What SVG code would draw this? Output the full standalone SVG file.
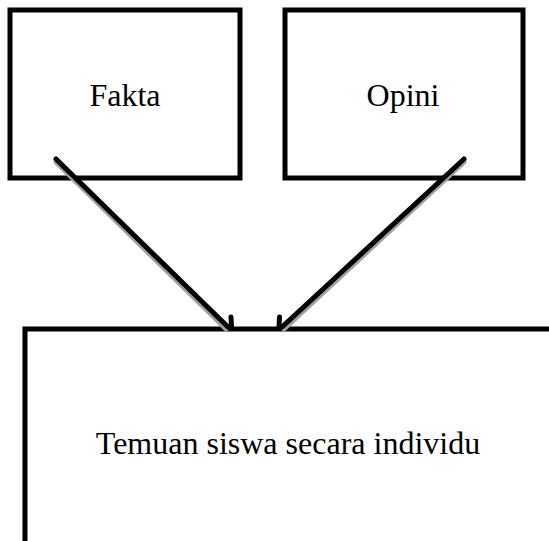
<svg xmlns="http://www.w3.org/2000/svg" width="549" height="541" viewBox="0 0 549 541">
  <style>
    .box { fill: #ffffff; stroke: #000000; stroke-width: 5; }
    .label { font-family: "Liberation Serif", "Times New Roman", serif; font-size: 32px; fill: #000000; text-anchor: middle; }
    .edge { stroke: #000000; stroke-width: 5; stroke-linecap: round; fill: none; }
    .edge-shadow { stroke: #a0a0a0; stroke-width: 5; stroke-linecap: round; fill: none; }
  </style>
  <rect width="549" height="541" fill="#ffffff"/>

  <g id="node-fakta">
    <rect class="box" x="10" y="10" width="230" height="168"/>
    <text class="label" x="125" y="106">Fakta</text>
  </g>

  <g id="node-opini">
    <rect class="box" x="285" y="10" width="238" height="168"/>
    <text class="label" x="403" y="106">Opini</text>
  </g>

  <g id="node-temuan">
    <path class="box" d="M25,545 L25,329 L555,329"/>
    <text class="label" x="288" y="454">Temuan siswa secara individu</text>
  </g>

  <g id="connectors">
    <line class="edge-shadow" x1="56" y1="162" x2="226" y2="329"/>
    <line class="edge-shadow" x1="464" y1="162" x2="284" y2="329"/>
    <line class="edge" x1="56" y1="159" x2="228" y2="327"/>
    <line class="edge" x1="464" y1="159" x2="282" y2="327"/>
    <line class="edge" x1="231" y1="317" x2="231.5" y2="327"/>
    <line class="edge" x1="279.5" y1="317" x2="279" y2="327"/>
  </g>
</svg>
